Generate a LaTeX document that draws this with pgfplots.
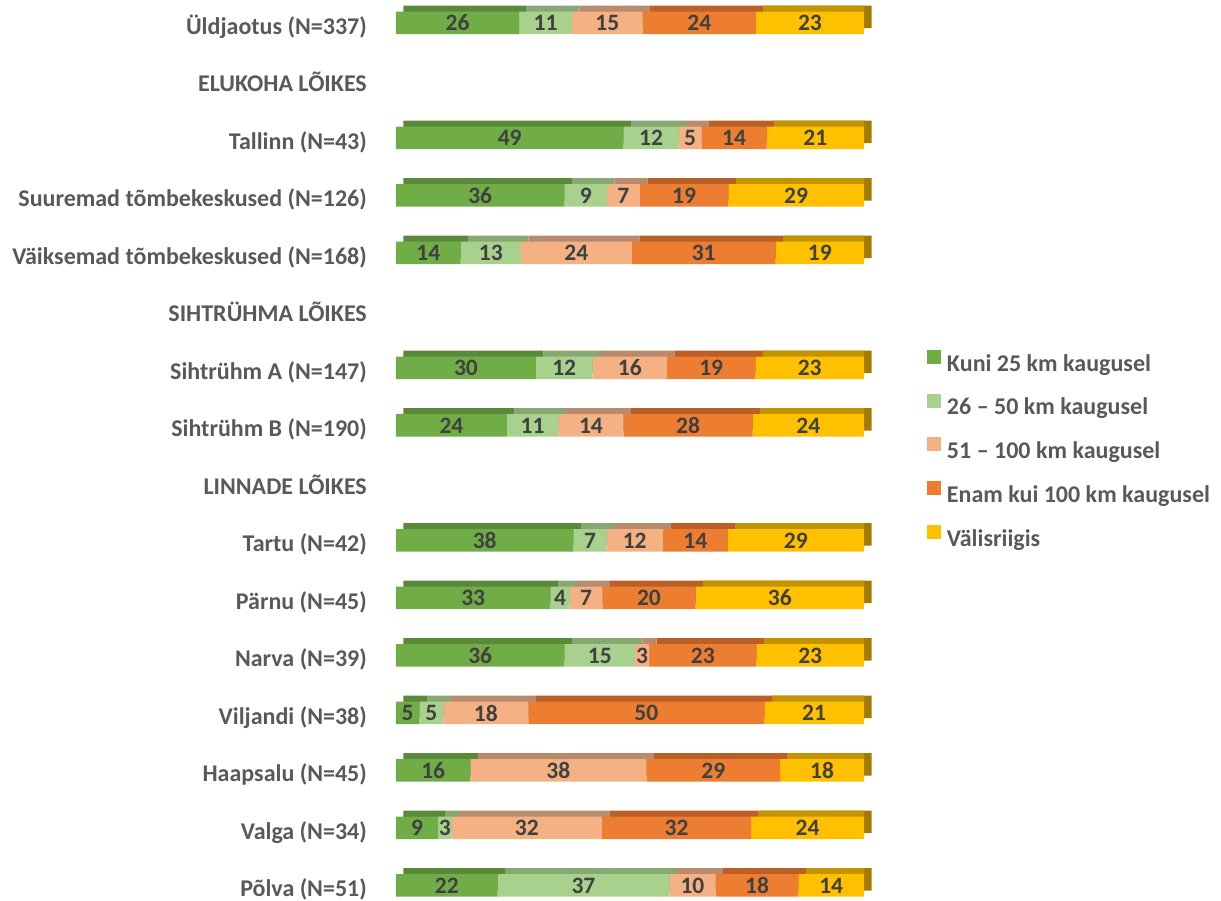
\documentclass[border=0pt]{standalone}
\usepackage{fontspec}
\setmainfont{Carlito}
\usepackage{pgfplots}
\usepackage{pgfplotstable}
\pgfplotsset{compat=1.18}
\definecolor{c1}{HTML}{70AD47}\definecolor{c1t}{HTML}{5A8A39}
\definecolor{c2}{HTML}{A9D18E}\definecolor{c2t}{HTML}{88A873}
\definecolor{c3}{HTML}{F4B183}\definecolor{c3t}{HTML}{BA8A6C}
\definecolor{c4}{HTML}{ED7D31}\definecolor{c4t}{HTML}{BA5F25}
\definecolor{c5}{HTML}{FFC000}\definecolor{c5t}{HTML}{C49300}\definecolor{c5s}{HTML}{A37B00}
\definecolor{cT}{HTML}{595959}\definecolor{cV}{HTML}{404040}

\pgfplotstableread{
y a b c d e
0 26.3 11.3 15.1 24.2 23.1
2 48.6 11.8 4.9 13.9 20.8
3 36.0 9.1 7.0 18.9 29.0
4 13.8 12.9 23.7 30.7 18.9
6 29.9 12.1 15.9 18.9 23.2
7 23.7 11.0 13.9 27.6 23.8
9 37.9 7.1 12.0 13.9 29.1
10 33.0 4.1 7.0 19.9 36.0
11 36.0 15.1 3.0 22.9 23.0
12 5.0 5.1 18.2 50.4 21.3
13 15.9 0 37.6 28.6 17.9
14 9.0 2.9 32.1 31.9 24.1
15 21.7 36.7 9.9 17.7 14.0
}\data

\tikzset{lab/.style={font=\fontsize{24}{28}\selectfont\bfseries},
         vlab/.style={font=\fontsize{23.5}{28}\selectfont\bfseries}}

\begin{document}
\begin{tikzpicture}
\pgfplotsset{
  base/.style={scale only axis, width=468pt, height=901pt, xmin=0, xmax=100,
    ymin=-0.4, ymax=15.27, y dir=reverse, xbar stacked, bar width=22.5pt,
    at={(0pt,0pt)}, anchor=south west},
}
% 3D depth layer
\begin{axis}[base, hide axis, at={(7.5pt,6pt)}]
 \addplot[fill=c1t, draw=none] table[x=a,y=y]{\data};
 \addplot[fill=c2t, draw=none] table[x=b,y=y]{\data};
 \addplot[fill=c3t, draw=none] table[x=c,y=y]{\data};
 \addplot[fill=c4t, draw=none] table[x=d,y=y]{\data};
 \addplot[fill=c5s, draw=none] table[x=e,y=y]{\data};
\end{axis}
% top face of last segment (clipped at the bar end)
\begin{axis}[base, hide axis, at={(7.5pt,6pt)}, width=460.5pt, xmax=98.397]
 \addplot[fill=none, draw=none] table[x=a,y=y]{\data};
 \addplot[fill=none, draw=none] table[x=b,y=y]{\data};
 \addplot[fill=none, draw=none] table[x=c,y=y]{\data};
 \addplot[fill=none, draw=none] table[x=d,y=y]{\data};
 \addplot[fill=c5t, draw=none] table[x=e,y=y]{\data};
\end{axis}
% front faces
\begin{axis}[base, axis line style={draw=none}, xtick=\empty,
  ytick={0,...,15}, major tick length=0pt,
  yticklabels={{Üldjaotus (N=337)},{ELUKOHA LÕIKES},{Tallinn (N=43)},{Suuremad tõmbekeskused (N=126)},{Väiksemad tõmbekeskused (N=168)},{SIHTRÜHMA LÕIKES},{Sihtrühm A (N=147)},{Sihtrühm B (N=190)},{LINNADE LÕIKES},{Tartu (N=42)},{Pärnu (N=45)},{Narva (N=39)},{Viljandi (N=38)},{Haapsalu (N=45)},{Valga (N=34)},{Põlva (N=51)}},
  yticklabel style={lab, text=cT, anchor=east, inner sep=0pt, xshift=-29pt, yshift=-4pt, text height=15pt, text depth=0pt},
  visualization depends on=rawx \as \rawx,
  nodes near coords={\ifdim\rawx pt<0.5pt\else\pgfmathprintnumber[fixed,precision=0,assume math mode=true]{\rawx}\fi},
  nodes near coords align={center},
  every node near coord/.append style={vlab, text=cV, inner sep=0pt, anchor=center},
  legend style={at={(1.1346,0.6116)}, anchor=north west, draw=none, fill=none, inner sep=0pt, outer sep=0pt,
    row sep=22.5pt, column sep=6pt, font=\fontsize{24}{28}\selectfont\bfseries, text=cT,
    nodes={inner sep=0pt, text height=14.5pt, text depth=0pt}},
  legend cell align=left,
]
 \addplot[fill=c1, draw=none, legend image code/.code={\fill[c1] (0pt,0pt) rectangle (14pt,14pt);}] table[x=a,y=y]{\data};
 \addplot[fill=c2, draw=none, legend image code/.code={\fill[c2] (0pt,0pt) rectangle (14pt,14pt);}] table[x=b,y=y]{\data};
 \addplot[fill=c3, draw=none, legend image code/.code={\fill[c3] (0pt,0pt) rectangle (14pt,14pt);}] table[x=c,y=y]{\data};
 \addplot[fill=c4, draw=none, legend image code/.code={\fill[c4] (0pt,0pt) rectangle (14pt,14pt);}] table[x=d,y=y]{\data};
 \addplot[fill=c5, draw=none, legend image code/.code={\fill[c5] (0pt,0pt) rectangle (14pt,14pt);}] table[x=e,y=y]{\data};
 \legend{Kuni 25 km kaugusel, 26 – 50 km kaugusel, 51 – 100 km kaugusel, Enam kui 100 km kaugusel, Välisriigis}
\end{axis}
\pgfresetboundingbox
\useasboundingbox (-396pt,0pt) rectangle (825pt,901pt);
\end{tikzpicture}
\end{document}
